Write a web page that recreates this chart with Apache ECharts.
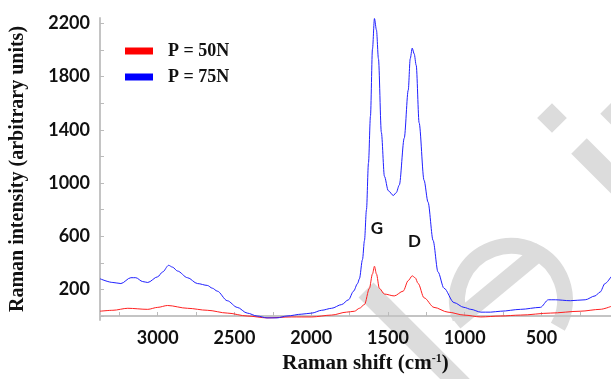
<!DOCTYPE html>
<html>
<head>
<meta charset="utf-8">
<script src="https://cdn.jsdelivr.net/npm/echarts@6/dist/echarts.min.js"></script>
<style>
  html, body { margin: 0; padding: 0; background: #fff; }
  #main { width: 611px; height: 379px; }
</style>
</head>
<body>
<div id="main"></div>
<script>
// Raman shift (cm-1) / intensity
var seriesNames = ['P = 50N', 'P = 75N'];

var redX = [3376, 3292, 3195, 3065, 3000, 2936, 2806, 2677, 2547, 2417, 2288, 2126, 1996, 1867, 1770, 1718,
            1686, 1653, 1621, 1601, 1588, 1575, 1556, 1523, 1459, 1401, 1368, 1342, 1323, 1303, 1265, 1200,
            1109, 1005, 895, 766, 636, 442, 248, 118, 47];
var redY = [36, 43, 58, 50, 65, 79, 58, 43, 22, 0, -14, -7, -7, 7, 29, 36,
            58, 86, 208, 316, 374, 316, 208, 165, 151, 187, 266, 302, 288, 244, 137, 65,
            29, 7, -7, 0, 7, 22, 36, 50, 72];

var blueX = [3376, 3292, 3240, 3175, 3143, 3098, 3065, 3000, 2968, 2929, 2903, 2871, 2806, 2741, 2677, 2644,
             2612, 2547, 2482, 2417, 2353, 2288, 2223, 2158, 2061, 1996, 1932, 1867, 1802, 1757, 1724, 1698,
             1686, 1666, 1653, 1640, 1627, 1614, 1601, 1588, 1575, 1562, 1543, 1523, 1498, 1465, 1446, 1426,
             1394, 1368, 1355, 1342, 1329, 1316, 1297, 1265, 1239, 1206, 1174, 1135, 1070, 1005, 960, 895,
             831, 766, 636, 507, 455, 410, 312, 215, 151, 118, 86, 47];
var blueY = [280, 252, 244, 288, 288, 259, 252, 295, 331, 381, 367, 338, 288, 244, 230, 209,
             187, 115, 65, 22, 0, -14, -14, 0, 14, 22, 43, 58, 86, 122, 187, 244,
             280, 424, 568, 800, 1150, 1503, 2006, 2236, 2150, 1934, 1380, 1050, 942, 906, 927, 985,
             1337, 1697, 1934, 2013, 1970, 1884, 1452, 1021, 856, 568, 331, 209, 101, 65, 50, 29,
             29, 36, 50, 65, 122, 122, 115, 122, 151, 180, 244, 295];

var yTicks = [0, 200, 400, 600, 800, 1000, 1200, 1400, 1600, 1800, 2000, 2200];
var yLabels = [200, 600, 1000, 1400, 1800, 2200];
var xTicks = [250, 500, 750, 1000, 1250, 1500, 1750, 2000, 2250, 2500, 2750, 3000, 3250];
var xLabels = [500, 1000, 1500, 2000, 2500, 3000];

var peakNames = ['G', 'D'];
var peakPos = [[1572, 655], [1328, 560]];

function pairs(xs, ys) {
    var out = [];
    for (var i = 0; i < xs.length; i++) out.push([xs[i], ys[i]]);
    return out;
}

var myChart = echarts.init(document.getElementById('main'));

var wm = '#dcdcdc';
var tickFont = { fontFamily: 'Lato', fontWeight: 'bold', fontSize: 18, color: '#111' };

option = {
    animation: false,
    backgroundColor: '#fff',
    grid: { left: 97, right: 0, top: 18, bottom: 46 },
    legend: {
        left: 125,
        top: 42,
        padding: 0,
        orient: 'vertical',
        icon: 'rect',
        itemWidth: 28,
        itemHeight: 7,
        itemGap: 8,
        textStyle: {
            fontFamily: 'Liberation Serif',
            fontWeight: 'bold',
            fontSize: 18,
            color: '#111',
            padding: [0, 0, 0, 10]
        },
        data: seriesNames
    },
    graphic: [
        // faint watermark behind the curves
        { type: 'line', z: 0, shape: { x1: 366, y1: 290, x2: 488, y2: 412 }, style: { stroke: wm, lineWidth: 21 } },
        { type: 'arc', z: 0, shape: { cx: 511, cy: 300, r: 54, startAngle: 2.79, endAngle: 0.52 + Math.PI * 2, clockwise: true }, style: { stroke: wm, lineWidth: 16, fill: null } },
        { type: 'line', z: 0, shape: { x1: 455, y1: 322, x2: 542, y2: 250 }, style: { stroke: wm, lineWidth: 17 } },
        { type: 'rect', z: 0, x: 552, y: 118, rotation: Math.PI / 4, shape: { x: -10.5, y: -10.5, width: 21, height: 21 }, style: { fill: wm } },
        { type: 'line', z: 0, shape: { x1: 579, y1: 146, x2: 660, y2: 227 }, style: { stroke: wm, lineWidth: 22 } },
        { type: 'line', z: 0, shape: { x1: 608, y1: 106, x2: 650, y2: 148 }, style: { stroke: wm, lineWidth: 22 } }
    ],
    xAxis: {
        type: 'value',
        inverse: true,
        min: 47,
        max: 3376,
        name: '{a|Raman shift (cm}{s|-1}{a|)}',
        nameLocation: 'middle',
        nameGap: 33,
        nameTextStyle: {
            padding: [0, 0, 0, 20],
            rich: {
                a: { fontFamily: 'Liberation Serif', fontWeight: 'bold', fontSize: 21, color: '#111' },
                s: { fontFamily: 'Liberation Serif', fontWeight: 'bold', fontSize: 12, color: '#111', verticalAlign: 'top', padding: [0, 0, 9, 0] }
            }
        },
        splitLine: { show: false },
        axisLine: { lineStyle: { color: '#c4c4c4', width: 2 } },
        axisTick: { inside: true, length: 4, lineStyle: { color: '#bbb' }, customValues: xTicks },
        axisLabel: Object.assign({
            customValues: xLabels,
            margin: 9,
            formatter: function (v) { return String(v); }
        }, tickFont)
    },
    yAxis: {
        type: 'value',
        min: -30,
        max: 2240,
        name: 'Raman intensity (arbitrary units)',
        nameLocation: 'middle',
        nameGap: 72,
        nameTextStyle: {
            fontFamily: 'Liberation Serif',
            fontWeight: 'bold',
            fontSize: 20,
            color: '#111'
        },
        splitLine: { show: false },
        axisLine: { show: true, lineStyle: { color: '#c4c4c4', width: 2 } },
        axisTick: { show: true, inside: true, length: 4, lineStyle: { color: '#bbb' }, customValues: yTicks },
        axisLabel: Object.assign({
            customValues: yLabels,
            margin: 10,
            formatter: function (v) { return String(v); }
        }, tickFont)
    },
    series: [
        {
            name: seriesNames[0],
            type: 'line',
            z: 3,
            showSymbol: false,
            smooth: 0.3,
            smoothMonotone: 'x',
            color: '#ff0000',
            lineStyle: { width: 1, color: '#ff2020' },
            data: pairs(redX, redY)
        },
        {
            name: seriesNames[1],
            type: 'line',
            z: 4,
            showSymbol: false,
            smooth: 0.3,
            smoothMonotone: 'x',
            color: '#0000ff',
            lineStyle: { width: 1, color: '#2020ff' },
            data: pairs(blueX, blueY),
            markPoint: {
                symbol: 'circle',
                symbolSize: 0,
                label: {
                    show: true,
                    formatter: '{b}',
                    fontFamily: 'Lato',
                    fontWeight: 'bold',
                    fontSize: 17,
                    color: '#111'
                },
                data: peakNames.map(function (n, i) {
                    return { name: n, coord: peakPos[i] };
                })
            }
        }
    ]
};
myChart.setOption(option);
</script>
</body>
</html>
